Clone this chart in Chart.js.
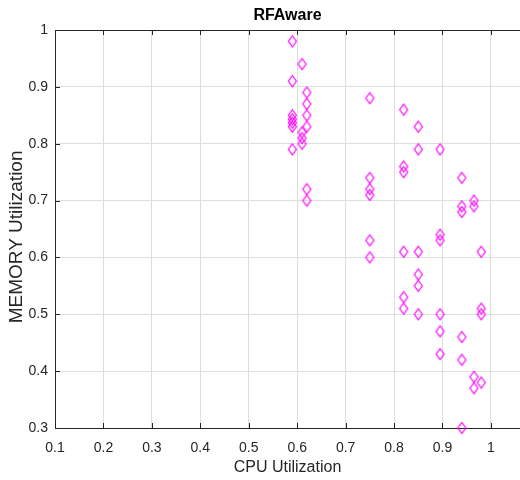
<!DOCTYPE html>
<html>
<head>
<meta charset="utf-8">
<script src="https://cdn.jsdelivr.net/npm/chart.js@4.4.0/dist/chart.umd.min.js"></script>
<style>
  html, body { margin: 0; padding: 0; background: #fff; }
</style>
</head>
<body>
<canvas id="chart" width="520" height="480"></canvas>
<script>
// values
const cpu = [
  0.59, 0.59, 0.59, 0.59, 0.59, 0.59, 0.59,
  0.61, 0.61, 0.61, 0.61,
  0.62, 0.62, 0.62, 0.62, 0.62, 0.62,
  0.75, 0.75, 0.75, 0.75, 0.75, 0.75,
  0.82, 0.82, 0.82, 0.82, 0.82, 0.82,
  0.85, 0.85, 0.85, 0.85, 0.85, 0.85,
  0.895, 0.895, 0.895, 0.895, 0.895, 0.895,
  0.94, 0.94, 0.94, 0.94, 0.94, 0.94,
  0.965, 0.965, 0.965, 0.965,
  0.98, 0.98, 0.98, 0.98,
];
const memory = [
  0.98, 0.91, 0.85, 0.843, 0.837, 0.83, 0.79,
  0.94, 0.82, 0.81, 0.80,
  0.89, 0.87, 0.85, 0.83, 0.72, 0.70,
  0.88, 0.74, 0.72, 0.71, 0.63, 0.60,
  0.86, 0.76, 0.75, 0.61, 0.53, 0.51,
  0.83, 0.79, 0.61, 0.57, 0.55, 0.50,
  0.79, 0.64, 0.63, 0.50, 0.47, 0.43,
  0.74, 0.69, 0.68, 0.46, 0.42, 0.30,
  0.70, 0.69, 0.39, 0.37,
  0.61, 0.51, 0.50, 0.38,
];
const xTicks = [0.1, 0.2, 0.3, 0.4, 0.5, 0.6, 0.7, 0.8, 0.9, 1];
const yTicks = [0.3, 0.4, 0.5, 0.6, 0.7, 0.8, 0.9, 1];

const axisColor = "#262626";
const gridColor = "#dedede";
Chart.defaults.font.family = "'Liberation Sans', Arial, Helvetica, sans-serif";

// matlab style diamond, a bit taller than wide
function diamondMarker() {
  const c = document.createElement("canvas");
  c.width = 11;
  c.height = 14;
  const g = c.getContext("2d");
  g.strokeStyle = "#ff00ff";
  g.lineWidth = 1.2;
  g.beginPath();
  g.moveTo(5.5, 1.5);
  g.lineTo(9.5, 7);
  g.lineTo(5.5, 12.5);
  g.lineTo(1.5, 7);
  g.closePath();
  g.stroke();
  return c;
}

// short inward tick marks like matlab
const inwardTicks = {
  id: "inwardTicks",
  beforeDatasetsDraw(chart) {
    const { ctx, chartArea: a, scales } = chart;
    ctx.save();
    ctx.strokeStyle = axisColor;
    ctx.lineWidth = 1;
    ctx.beginPath();
    scales.x.ticks.forEach((t) => {
      const px = Math.round(scales.x.getPixelForValue(t.value)) + 0.5;
      ctx.moveTo(px, a.bottom);
      ctx.lineTo(px, a.bottom - 5);
      ctx.moveTo(px, a.top);
      ctx.lineTo(px, a.top + 5);
    });
    scales.y.ticks.forEach((t) => {
      const py = Math.round(scales.y.getPixelForValue(t.value)) + 0.5;
      ctx.moveTo(a.left, py);
      ctx.lineTo(a.left + 5, py);
    });
    ctx.stroke();
    ctx.restore();
  },
};

const points = cpu.map((v, i) => ({ x: v, y: memory[i] }));

function noPad(s) {
  s.paddingLeft = 0;
  s.paddingRight = 0;
}

new Chart(document.getElementById("chart"), {
  type: "scatter",
  data: {
    datasets: [
      {
        label: "RFAware",
        data: points,
        pointStyle: diamondMarker(),
        clip: false,
      },
    ],
  },
  options: {
    responsive: false,
    animation: false,
    layout: { padding: 0, autoPadding: false },
    plugins: {
      legend: { display: false },
      tooltip: { enabled: false },
    },
    scales: {
      x: {
        type: "linear",
        position: "bottom",
        min: 0.1,
        max: 1.06,
        afterBuildTicks: (s) => { s.ticks = xTicks.map((v) => ({ value: v })); },
        afterFit: (s) => { s.height = 52; noPad(s); },
        grid: { color: gridColor, drawTicks: false },
        border: { color: axisColor },
        ticks: {
          color: axisColor,
          font: { size: 14 },
          padding: 12,
          maxRotation: 0,
          callback: (v) => String(v),
        },
        title: {
          display: true,
          text: "CPU Utilization",
          color: axisColor,
          font: { size: 16 },
          padding: { top: 0, bottom: 3 },
        },
      },
      top: {
        type: "linear",
        position: "top",
        min: 0.1,
        max: 1.06,
        afterFit: (s) => { s.height = 30; noPad(s); },
        grid: { display: false, drawTicks: false },
        border: { color: axisColor },
        ticks: { display: false },
        title: {
          display: true,
          text: "RFAware",
          color: "#000",
          font: { size: 16, weight: "bold" },
          padding: { top: 6, bottom: 0 },
        },
      },
      y: {
        type: "linear",
        position: "left",
        min: 0.3,
        max: 1,
        afterBuildTicks: (s) => { s.ticks = yTicks.map((v) => ({ value: v })); },
        afterFit: (s) => { s.width = 55; },
        grid: { color: gridColor, drawTicks: false },
        border: { color: axisColor },
        ticks: {
          color: axisColor,
          font: { size: 14 },
          padding: 7,
          callback: (v) => String(v),
        },
        title: {
          display: true,
          text: "MEMORY Utilization   ",
          color: axisColor,
          font: { size: 19 },
          padding: { top: 5, bottom: 0 },
        },
      },
    },
  },
  plugins: [inwardTicks],
});
</script>
</body>
</html>
